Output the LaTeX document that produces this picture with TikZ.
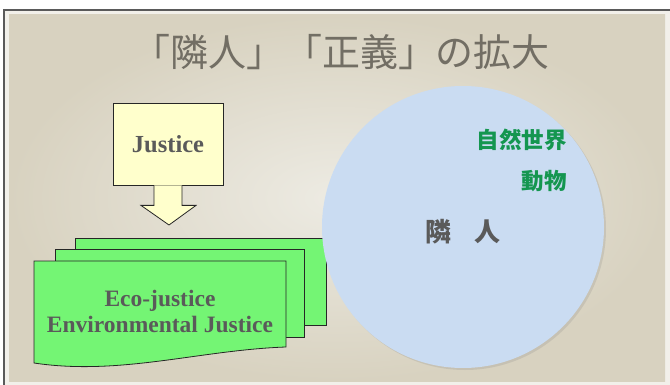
\documentclass[tikz,border=0pt]{standalone}
\usepackage{fontspec}
\setmainfont{Liberation Serif}
\newfontfamily\cjk{Noto Sans CJK JP}
\usetikzlibrary{shadows}
\definecolor{frameline}{HTML}{5A5A5A}
\definecolor{beigeout}{HTML}{D8D2C0}
\definecolor{beigein}{HTML}{EDEBE3}
\definecolor{margincol}{HTML}{F2F0EA}
\definecolor{titlecol}{HTML}{726E64}
\definecolor{yellowfill}{HTML}{FFFFCC}
\definecolor{greenfill}{HTML}{74F574}
\definecolor{textgray}{HTML}{5A5A5A}
\definecolor{bluefill}{HTML}{CADCF2}
\definecolor{greentext}{HTML}{149650}
\tikzset{
  shapeline/.style={draw=black!85, line width=0.8pt},
  yellowshape/.style={shapeline, fill=yellowfill},
  greenshape/.style={shapeline, fill=greenfill},
  serifbold/.style={font=\fontsize{23.5}{26}\selectfont\bfseries, text=textgray, align=center},
  cjkgreen/.style={font=\cjk\fontsize{22.5}{22.5}\selectfont\bfseries, text=greentext, anchor=east, inner sep=0pt},
}
\begin{document}
\begin{tikzpicture}[x=1pt,y=-1pt]
\useasboundingbox (0,0) rectangle (670,385);
\fill[white] (0,0) rectangle (670,385);
\fill[margincol] (4,10) rectangle (670,385);
\shade[inner color=beigein, outer color=beigeout] (9,15) rectangle (665,381);
\draw[frameline, line width=1.2pt] (4,385) -- (4,10) -- (670,10);
% title
\node (title) at (341,52) {\cjk\fontsize{38}{38}\selectfont\color{titlecol}「隣人」「正義」の拡大};
% justice box and arrow
\node[yellowshape, minimum width=110pt, minimum height=82pt, inner sep=0pt] (justice) at (168,144) {};
\node[serifbold, font=\fontsize{24.5}{26}\selectfont\bfseries] (justicetext) at (justice.center) {Justice};
\coordinate (arrowtip) at (169,225);
\filldraw[yellowshape] ([xshift=-14pt]justice.south) -- ++(0,20) -- ++(-13,0) -- (arrowtip) -- ([xshift=28pt,yshift=-20pt]justice.south) -- ++(-14,0) -- ([xshift=14pt]justice.south);
% documents
\path[greenshape] (75,238) rectangle (326,325);
\path[greenshape] (55,249) rectangle (304,337);
\path[greenshape] (34,261) -- (286,261) -- (286,347) .. controls (200,350) and (120,376) .. (34,363) -- cycle;
\node[serifbold] (eco) at (160,311) {Eco-justice\\Environmental Justice};
% circle
\node[circle, minimum size=282pt, inner sep=0pt, fill=bluefill,
  drop shadow={opacity=0.2, shadow xshift=2pt, shadow yshift=-2pt}] (neighbor) at (463,227) {};
\node[cjkgreen] (nature) at (567,140) {自然世界};
\node[cjkgreen] (animal) at (567,181) {動物};
\node[font=\cjk\fontsize{26}{26}\selectfont\bfseries, text=textgray] (rinjin) at (463,232) {隣\hspace{0.85em}人};
\end{tikzpicture}
\end{document}
